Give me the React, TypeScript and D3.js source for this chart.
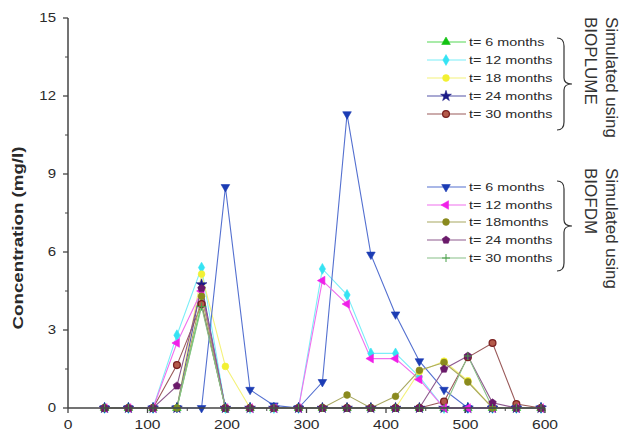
import React from "react";
import * as d3 from "d3";

// distance along the transect (m) of every observation well
const distance = [46, 76, 107, 137, 168, 198, 229, 259, 290, 320, 351, 381, 412, 442, 473, 503, 534, 564, 595];

const xTicks = [0, 100, 200, 300, 400, 500, 600];
const yTicks = [0, 3, 6, 9, 12, 15];

// Simulated using BIOPLUME
const bioplume6 = [0, 0, 0, 0, 4.0, 0, 0, 0, 0, 0, 0, 0, 0, 0, 0, 0, 0, 0, 0];
const bioplume12 = [0, 0, 0, 2.8, 5.4, 0, 0, 0, 0, 5.35, 4.35, 2.1, 2.1, 1.2, 0, 0, 0, 0, 0];
const bioplume18 = [0, 0, 0, 0, 5.15, 1.6, 0, 0, 0, 0, 0, 0, 0, 1.4, 1.8, 1.05, 0, 0, 0];
const bioplume24 = [0, 0, 0, 0, 4.75, 0, 0, 0, 0, 0, 0, 0, 0, 0, 0, 0, 0, 0, 0];
const bioplume30 = [0, 0, 0, 1.65, 4.0, 0, 0, 0, 0, 0, 0, 0, 0, 0, 0.25, 1.95, 2.5, 0.15, 0];

// Simulated using BIOFDM
const biofdm6 = [0, 0, 0, 0, 0, 8.5, 0.7, 0.1, 0, 1.0, 11.3, 5.9, 3.6, 1.8, 0.7, 0, 0, 0, 0];
const biofdm12 = [0, 0, 0, 2.5, 4.5, 0, 0, 0, 0, 4.9, 4.0, 1.9, 1.9, 1.1, 0, 0, 0, 0, 0];
const biofdm18 = [0, 0, 0, 0, 4.3, 0, 0, 0, 0, 0, 0.5, 0, 0.45, 1.45, 1.75, 1.0, 0, 0, 0];
const biofdm24 = [0, 0, 0, 0.85, 4.6, 0, 0, 0, 0, 0, 0, 0, 0, 0, 1.5, 2.0, 0.2, 0, 0];
const biofdm30 = [0, 0, 0, 0, 3.9, 0, 0, 0, 0, 0, 0, 0, 0, 0, 0, 2.0, 0, 0, 0];

const bioplumeLabels = ["t= 6 months", "t= 12 months", "t= 18 months", "t= 24 months", "t= 30 months"];
const biofdmLabels = ["t= 6 months", "t= 12 months", "t= 18months", "t= 24 months", "t= 30 months"];

type Shape = "up" | "diamond" | "circle" | "star" | "ring" | "down" | "left" | "pentagon" | "plus";

interface Series {
  values: number[];
  color: string;
  line: string;
  shape: Shape;
}

const bioplumeSeries: Series[] = [
  { values: bioplume6, color: "#12c212", line: "#55d855", shape: "up" },
  { values: bioplume12, color: "#35e3f3", line: "#7beef8", shape: "diamond" },
  { values: bioplume18, color: "#f2f032", line: "#f4f27a", shape: "circle" },
  { values: bioplume24, color: "#1b1b86", line: "#5555a8", shape: "star" },
  { values: bioplume30, color: "#7a2020", line: "#9a5a5a", shape: "ring" },
];

const biofdmSeries: Series[] = [
  { values: biofdm6, color: "#1c3cb4", line: "#5470d0", shape: "down" },
  { values: biofdm12, color: "#f020e8", line: "#f070ee", shape: "left" },
  { values: biofdm18, color: "#8a8a1e", line: "#a8a860", shape: "circle" },
  { values: biofdm24, color: "#6a1a6a", line: "#8e5a8e", shape: "pentagon" },
  { values: biofdm30, color: "#4aa04a", line: "#88c088", shape: "plus" },
];

const pentagon = {
  draw(context: any, size: number) {
    const r = Math.sqrt(size / 2.4);
    for (let i = 0; i < 5; i++) {
      const a = -Math.PI / 2 + (i * 2 * Math.PI) / 5;
      const px = r * Math.cos(a);
      const py = r * Math.sin(a);
      if (i === 0) context.moveTo(px, py);
      else context.lineTo(px, py);
    }
    context.closePath();
  },
};

function Marker({ shape, color, x, y }: { shape: Shape; color: string; x: number; y: number }) {
  if (shape === "plus") {
    return (
      <path d="M-4,0H4M0,-4V4" transform={`translate(${x},${y})`} stroke={color} strokeWidth={1} fill="none" />
    );
  }
  let type: any = d3.symbolCircle;
  let size = 36;
  let rotate = 0;
  if (shape === "up") { type = d3.symbolTriangle; size = 32; }
  if (shape === "down") { type = d3.symbolTriangle; size = 32; rotate = 180; }
  if (shape === "left") { type = d3.symbolTriangle; size = 32; rotate = -90; }
  if (shape === "diamond") { type = d3.symbolDiamond; size = 34; }
  if (shape === "star") { type = d3.symbolStar; size = 36; }
  if (shape === "pentagon") { type = pentagon; size = 38; }
  const d = d3.symbol().type(type).size(size)() || "";
  const fill = shape === "ring" ? "#b45a4a" : color;
  return (
    <path
      d={d}
      transform={`translate(${x},${y}) rotate(${rotate})`}
      fill={fill}
      stroke={color}
      strokeWidth={shape === "ring" ? 1.3 : 0.6}
    />
  );
}

function brace(x0: number, xs: number, xt: number, y0: number, ym: number, y1: number) {
  const p = d3.path();
  p.moveTo(x0, y0);
  p.quadraticCurveTo(xs, y0, xs, y0 + 8);
  p.lineTo(xs, ym - 6);
  p.quadraticCurveTo(xs, ym, xt, ym);
  p.quadraticCurveTo(xs, ym, xs, ym + 6);
  p.lineTo(xs, y1 - 8);
  p.quadraticCurveTo(xs, y1, x0, y1);
  return p.toString();
}

const FONT = "'Liberation Sans', Arial, sans-serif";

export default function App() {
  const width = 622;
  const height = 439;

  const x = d3.scaleLinear().domain([0, 600]).range([68, 545]);
  const y = d3.scaleLinear().domain([0, 15]).range([408, 18]);

  const line = d3
    .line<number>()
    .x((_, i) => x(distance[i]))
    .y((d) => y(d));

  const allSeries = [...bioplumeSeries, ...biofdmSeries];

  const xMinor = d3.range(50, 600, 100);
  const yMinor = d3.range(1.5, 15, 3);

  const legend = (
    series: Series[],
    labels: string[],
    rowY: number[],
    title: string,
    top: number,
    braceTop: number,
    braceBottom: number
  ) => (
    <g>
      {series.map((s, i) => (
        <g key={i}>
          <line x1={427} x2={466} y1={rowY[i]} y2={rowY[i]} stroke={s.line} strokeWidth={1.1} />
          <Marker shape={s.shape} color={s.color} x={446} y={rowY[i]} />
          <g transform={`translate(469,${rowY[i] + 4}) scale(1.25,1)`}>
            <text fontSize={11.5} fill="#2a2a2a" fontFamily={FONT}>
              {labels[i]}
            </text>
          </g>
        </g>
      ))}
      <path
        d={brace(557, 564, 572, braceTop, (braceTop + braceBottom) / 2, braceBottom)}
        fill="none"
        stroke="#333"
        strokeWidth={1.2}
      />
      <text transform={`translate(606,${top}) rotate(90)`} fontSize={17} fill="#333" fontFamily={FONT}>
        Simulated using
      </text>
      <text transform={`translate(585,${top}) rotate(90)`} fontSize={17} fill="#333" fontFamily={FONT}>
        {title}
      </text>
    </g>
  );

  return (
    <svg width={width} height={height} style={{ position: "absolute", left: 0, top: 0, background: "#fff" }}>
      {/* data lines */}
      {allSeries.map((s, i) => (
        <path key={`l${i}`} d={line(s.values) || ""} fill="none" stroke={s.line} strokeWidth={1.1} />
      ))}
      {/* markers */}
      {allSeries.map((s, i) =>
        s.values.map((v, j) => (
          <Marker key={`m${i}-${j}`} shape={s.shape} color={s.color} x={x(distance[j])} y={y(v)} />
        ))
      )}

      {/* axes */}
      <line x1={68} x2={545} y1={y(0)} y2={y(0)} stroke="#444" strokeWidth={1.5} />
      <line x1={68} x2={68} y1={y(0)} y2={y(15)} stroke="#444" strokeWidth={1.5} />
      {xTicks.map((t) => (
        <g key={`xt${t}`}>
          <line x1={x(t)} x2={x(t)} y1={y(0)} y2={y(0) + 5} stroke="#444" strokeWidth={1.3} />
          <g transform={`translate(${x(t)},${y(0) + 21}) scale(1.25,1)`}>
            <text textAnchor="middle" fontSize={12.5} fill="#2a2a2a" fontFamily={FONT}>
              {t}
            </text>
          </g>
        </g>
      ))}
      {xMinor.map((t) => (
        <line key={`xm${t}`} x1={x(t)} x2={x(t)} y1={y(0)} y2={y(0) + 3} stroke="#444" strokeWidth={1} />
      ))}
      {yTicks.map((t) => (
        <g key={`yt${t}`}>
          <line x1={63} x2={68} y1={y(t)} y2={y(t)} stroke="#444" strokeWidth={1.3} />
          <g transform={`translate(56,${y(t) + 4}) scale(1.2,1)`}>
            <text textAnchor="end" fontSize={12.5} fill="#2a2a2a" fontFamily={FONT}>
              {t}
            </text>
          </g>
        </g>
      ))}
      {yMinor.map((t) => (
        <line key={`ym${t}`} x1={65} x2={68} y1={y(t)} y2={y(t)} stroke="#444" strokeWidth={1} />
      ))}
      <text
        transform={`translate(23,238) rotate(-90)`}
        textAnchor="middle"
        fontSize={15}
        fontWeight="bold"
        fill="#2a2a2a"
        fontFamily={FONT}
        textLength={183}
        lengthAdjust="spacingAndGlyphs"
      >
        Concentration (mg/l)
      </text>

      {legend(bioplumeSeries, bioplumeLabels, [42, 60, 78, 96, 114], "BIOPLUME", 17, 38, 130)}
      {legend(biofdmSeries, biofdmLabels, [187, 205, 222, 240, 258], "BIOFDM", 168, 181, 271)}
    </svg>
  );
}
